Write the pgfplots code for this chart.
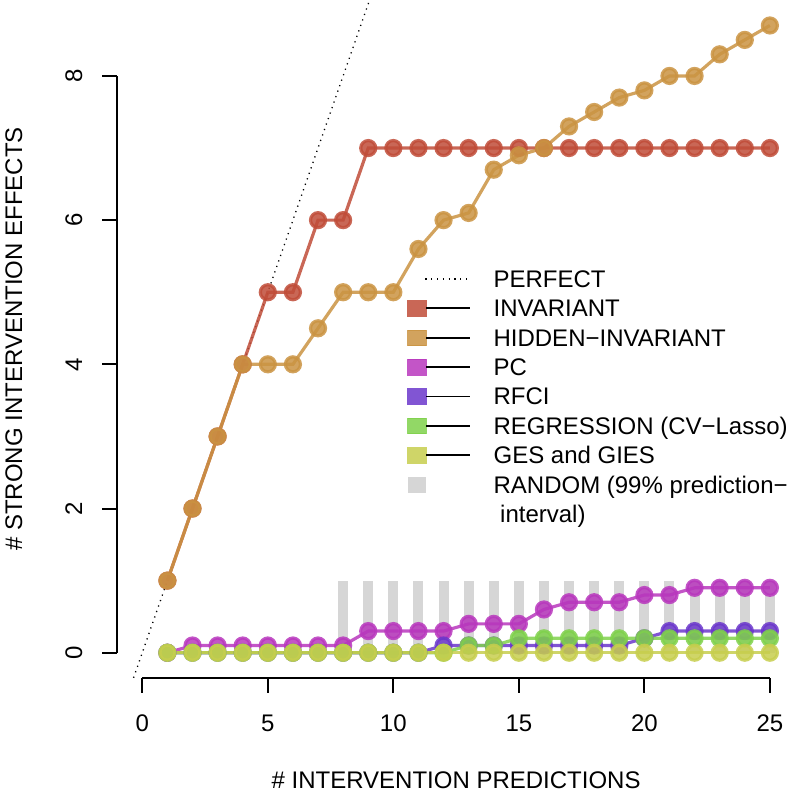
\documentclass[border=0pt]{standalone}
\usepackage{fontspec}
\setmainfont{Liberation Sans}
\usepackage{pgfplots}
\usepackage{pgfplotstable}
\pgfplotsset{compat=1.18}

\definecolor{cinv}{RGB}{192,76,56}
\definecolor{chid}{RGB}{202,147,66}
\definecolor{cpc}{RGB}{184,55,189}
\definecolor{crfci}{RGB}{107,55,203}
\definecolor{creg}{RGB}{127,209,75}
\definecolor{cges}{RGB}{199,206,78}
\definecolor{crand}{RGB}{214,214,214}

\pgfplotstableread{
x inv hid pc rfci reg ges
1 1 1 0 0 0 0
2 2 2 0.1 0 0 0
3 3 3 0.1 0 0 0
4 4 4 0.1 0 0 0
5 5 4 0.1 0 0 0
6 5 4 0.1 0 0 0
7 6 4.5 0.1 0 0 0
8 6 5 0.1 0 0 0
9 7 5 0.3 0 0 0
10 7 5 0.3 0 0 0
11 7 5.6 0.3 0 0 0
12 7 6 0.3 0.1 0 0
13 7 6.1 0.4 0.1 0.1 0
14 7 6.7 0.4 0.1 0.1 0
15 7 6.9 0.4 0.1 0.2 0
16 7 7 0.6 0.1 0.2 0
17 7 7.3 0.7 0.1 0.2 0
18 7 7.5 0.7 0.1 0.2 0
19 7 7.7 0.7 0.1 0.2 0
20 7 7.8 0.8 0.2 0.2 0
21 7 8 0.8 0.3 0.2 0
22 7 8 0.9 0.3 0.2 0
23 7 8.3 0.9 0.3 0.2 0
24 7 8.5 0.9 0.3 0.2 0
25 7 8.7 0.9 0.3 0.2 0
}\data

\pgfplotstableread{
x hi
8 1
9 1
10 1
11 1
12 1
13 1
14 1
15 1
16 1
17 1
18 1
19 1
20 1
21 1
22 1
23 1
24 1
25 1
}\rand

\pgfplotstableread{
x y
-0.348 -0.348
9.048 9.048
}\perfect

\pgfplotsset{
  series/.style={color=#1, draw opacity=0.85, line width=1.6pt, mark=*, mark size=3.75pt,
    mark options={draw=none, fill=#1, fill opacity=0.85}},
  swatch/.style={legend image code/.code={
    \fill[#1, opacity=0.85] (0pt,-3.9pt) rectangle (9.2pt,3.9pt);
    \draw[black, line width=0.9pt] (9.2pt,0pt) -- (31.4pt,0pt);}},
}

\begin{document}
\fontsize{12}{14.4}\selectfont
\begin{tikzpicture}
\begin{axis}[
  scale only axis, width=338.9pt, height=338.7pt,
  xmin=-1, xmax=26, ymin=-0.348, ymax=9.048,
  clip=false,
  axis line style={draw=none},
  xtick={0,5,10,15,20,25}, ytick={0,2,4,6,8},
  tick pos=left, tick align=outside, major tick length=7.5pt,
  tick style={black, line width=1pt},
  /pgf/number format/assume math mode=true,
  ticklabel style={font=\fontsize{12}{14.4}\selectfont, inner sep=0pt},
  xticklabel style={anchor=base, yshift=-19.4pt},
  yticklabel style={xshift=-10.0pt, rotate=90, anchor=base},
  xlabel={\# INTERVENTION PREDICTIONS},
  ylabel={\# STRONG INTERVENTION EFFECTS},
  every axis x label/.style={at={(axis description cs:0.5,-0.1639)}, anchor=base, inner sep=0pt},
  every axis y label/.style={at={(axis description cs:-0.1402,0.5)}, rotate=90, anchor=base, inner sep=0pt},
  legend cell align=left,
  legend style={at={(axis description cs:0.428,0.606)}, anchor=north west,
    draw=none, fill=none, inner sep=0pt, outer sep=0pt,
    row sep=3pt, column sep=11.1pt,
    nodes={inner sep=0pt, outer sep=0pt, text height=10pt, text depth=1.7pt,
      font=\fontsize{12}{14.4}\selectfont}},
]
\addplot[ycomb, draw=crand, line width=5pt, forget plot] table[x=x, y=hi] {\rand};
\addplot[black, line width=0.65pt, dash pattern=on 0.6pt off 2.3pt, forget plot] table[x=x, y=y] {\perfect};
\addplot[series=cinv, forget plot] table[x=x, y=inv] {\data};
\addplot[series=chid, forget plot] table[x=x, y=hid] {\data};
\addplot[series=cpc, forget plot] table[x=x, y=pc] {\data};
\addplot[series=crfci, forget plot] table[x=x, y=rfci] {\data};
\addplot[series=creg, forget plot] table[x=x, y=reg] {\data};
\addplot[series=cges, forget plot] table[x=x, y=ges] {\data};

\addlegendimage{legend image code/.code={
  \path[draw=none, fill=none] (0pt,0pt) -- (31.4pt,0pt);
  \draw[black, line width=0.65pt, dash pattern=on 0.6pt off 2.3pt] (8.9pt,0pt) -- (31.4pt,0pt);}}
\addlegendentry{PERFECT}
\addlegendimage{swatch=cinv}
\addlegendentry{INVARIANT}
\addlegendimage{swatch=chid}
\addlegendentry{HIDDEN−INVARIANT}
\addlegendimage{swatch=cpc}
\addlegendentry{PC}
\addlegendimage{swatch=crfci}
\addlegendentry{RFCI}
\addlegendimage{swatch=creg}
\addlegendentry{REGRESSION (CV−Lasso)}
\addlegendimage{swatch=cges}
\addlegendentry{GES and GIES}
\addlegendimage{legend image code/.code={
  \fill[crand, draw=none] (0pt,-3.9pt) rectangle (9.2pt,3.9pt);
  \path[draw=none, fill=none] (0pt,0pt) -- (31.4pt,0pt);}}
\addlegendentry{RANDOM (99\% prediction−}
\addlegendimage{legend image code/.code={\path[draw=none, fill=none] (0pt,0pt) -- (31.4pt,0pt);}}
\addlegendentry{\hspace{3.3pt}interval)}

\draw[line width=1pt] (axis cs:-1,0) -- (axis cs:-1,8);
\draw[line width=1pt] (axis cs:0,-0.348) -- (axis cs:25,-0.348);
\coordinate (sw) at (rel axis cs:0,0);
\coordinate (ne) at (rel axis cs:1,1);
\end{axis}
\pgfresetboundingbox
\path ([shift={(-58.6pt,-60.6pt)}]sw) rectangle ([shift={(0.5pt,0.2pt)}]ne);
\end{tikzpicture}
\end{document}
